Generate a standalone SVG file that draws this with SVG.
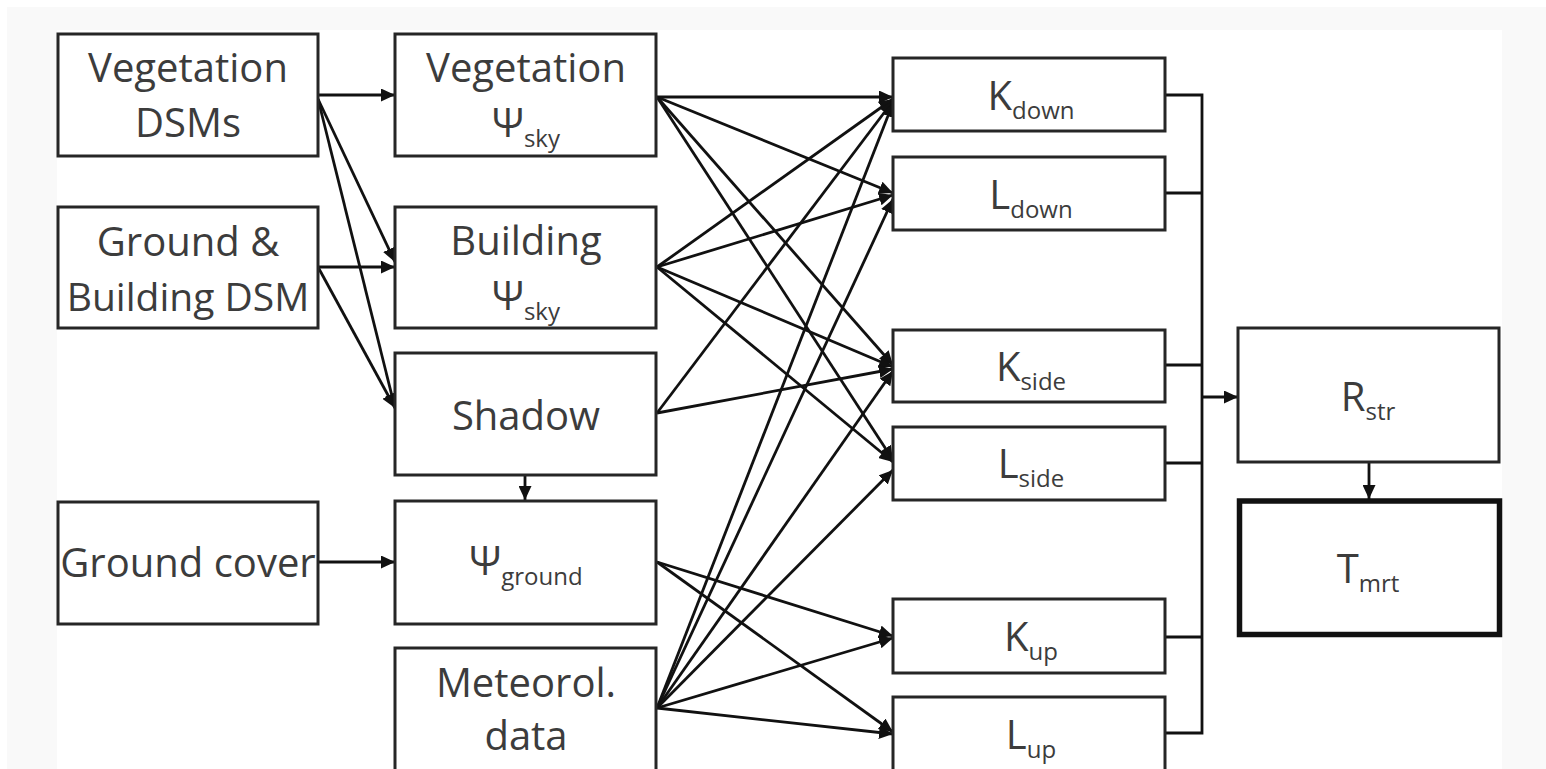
<svg xmlns="http://www.w3.org/2000/svg" width="1546" height="769" viewBox="0 0 1546 769">
<style>
.box{fill:#fff;stroke:#262626;stroke-width:3}
.thick{fill:#fff;stroke:#111;stroke-width:5.5}
.t{font-family:"Open Sans","Liberation Sans",sans-serif;font-size:40px;fill:#3c3c3c;text-anchor:middle}
.s{font-size:24px}
.c{fill:none;stroke:#111;stroke-width:2.8}
.a{marker-end:url(#ah)}
</style>
<defs>
<marker id="ah" markerUnits="userSpaceOnUse" markerWidth="16" markerHeight="13" refX="14" refY="6.5" orient="auto">
<path d="M0,0 L14,6.5 L0,13 Z" fill="#111"/>
</marker>
</defs>
<rect width="1546" height="769" fill="#fff"/>
<rect x="7" y="7" width="1539" height="762" fill="#f9f9f9"/>
<rect x="57" y="30" width="1445" height="739" fill="#fff"/>

<g id="connectors">
<line class="c a" x1="318" y1="95" x2="395" y2="95"/>
<line class="c a" x1="318" y1="99" x2="395" y2="262"/>
<line class="c a" x1="318" y1="99" x2="395" y2="408"/>
<line class="c a" x1="318" y1="267" x2="395" y2="267"/>
<line class="c a" x1="318" y1="267" x2="395" y2="408"/>
<line class="c a" x1="318" y1="562" x2="395" y2="562"/>
<line class="c a" x1="525" y1="475" x2="525" y2="500"/>

<line class="c a" x1="657" y1="97" x2="893" y2="97"/>
<line class="c a" x1="657" y1="97" x2="893" y2="193"/>
<line class="c a" x1="657" y1="97" x2="893" y2="365"/>
<line class="c a" x1="657" y1="97" x2="893" y2="460"/>

<line class="c a" x1="657" y1="267" x2="893" y2="99"/>
<line class="c a" x1="657" y1="267" x2="893" y2="195"/>
<line class="c a" x1="657" y1="267" x2="893" y2="367"/>
<line class="c a" x1="657" y1="267" x2="893" y2="462"/>

<line class="c a" x1="657" y1="413" x2="893" y2="101"/>
<line class="c a" x1="657" y1="413" x2="893" y2="369"/>

<line class="c a" x1="657" y1="562" x2="893" y2="636"/>
<line class="c a" x1="657" y1="562" x2="893" y2="732"/>

<line class="c a" x1="657" y1="708" x2="893" y2="103"/>
<line class="c a" x1="657" y1="708" x2="893" y2="199"/>
<line class="c a" x1="657" y1="708" x2="893" y2="371"/>
<line class="c a" x1="657" y1="708" x2="893" y2="470"/>
<line class="c a" x1="657" y1="708" x2="893" y2="638"/>
<line class="c a" x1="657" y1="708" x2="893" y2="734"/>

<polyline class="c" points="1165,95 1202,95 1202,733 1165,733"/>
<line class="c" x1="1165" y1="193" x2="1202" y2="193"/>
<line class="c" x1="1165" y1="365" x2="1202" y2="365"/>
<line class="c" x1="1165" y1="463" x2="1202" y2="463"/>
<line class="c" x1="1165" y1="637" x2="1202" y2="637"/>
<line class="c a" x1="1202" y1="397" x2="1238" y2="397"/>
<line class="c a" x1="1369" y1="462" x2="1369" y2="499"/>
</g>

<g id="veg-dsms"><rect class="box" x="58" y="34" width="260" height="122"/>
<text class="t" x="188" y="82">Vegetation</text><text class="t" x="188" y="137">DSMs</text></g>
<g id="ground-building-dsm"><rect class="box" x="58" y="207" width="260" height="121"/>
<text class="t" x="188" y="256">Ground &amp;</text><text class="t" x="188" y="311" style="font-size:39px">Building DSM</text></g>
<g id="ground-cover"><rect class="box" x="58" y="502" width="260" height="122"/>
<text class="t" x="188" y="577">Ground cover</text></g>

<g id="veg-psi"><rect class="box" x="395" y="34" width="261" height="122"/>
<text class="t" x="526" y="82">Vegetation</text>
<text class="t" x="526" y="137">Ψ<tspan class="s" dy="10">sky</tspan></text></g>
<g id="bld-psi"><rect class="box" x="395" y="207" width="261" height="121"/>
<text class="t" x="526" y="255">Building</text>
<text class="t" x="526" y="310">Ψ<tspan class="s" dy="10">sky</tspan></text></g>
<g id="shadow"><rect class="box" x="395" y="353" width="261" height="122"/>
<text class="t" x="526" y="430">Shadow</text></g>
<g id="psi-ground"><rect class="box" x="395" y="501" width="261" height="123"/>
<text class="t" x="526" y="575">Ψ<tspan class="s" dy="10">ground</tspan></text></g>
<g id="meteo"><rect class="box" x="395" y="648" width="261" height="130"/>
<text class="t" x="526" y="697">Meteorol.</text><text class="t" x="526" y="750">data</text></g>

<g id="kdown"><rect class="box" x="893" y="58" width="272" height="73"/>
<text class="t" x="1031" y="110">K<tspan class="s" dy="9">down</tspan></text></g>
<g id="ldown"><rect class="box" x="893" y="157" width="272" height="73"/>
<text class="t" x="1031" y="209">L<tspan class="s" dy="9">down</tspan></text></g>
<g id="kside"><rect class="box" x="893" y="330" width="272" height="72"/>
<text class="t" x="1031" y="381">K<tspan class="s" dy="9">side</tspan></text></g>
<g id="lside"><rect class="box" x="893" y="427" width="272" height="73"/>
<text class="t" x="1031" y="478">L<tspan class="s" dy="9">side</tspan></text></g>
<g id="kup"><rect class="box" x="893" y="599" width="272" height="74"/>
<text class="t" x="1031" y="651">K<tspan class="s" dy="9">up</tspan></text></g>
<g id="lup"><rect class="box" x="893" y="697" width="272" height="80"/>
<text class="t" x="1031" y="749">L<tspan class="s" dy="9">up</tspan></text></g>

<g id="rstr"><rect class="box" x="1238" y="328" width="261" height="134"/>
<text class="t" x="1368" y="411">R<tspan class="s" dy="9">str</tspan></text></g>
<g id="tmrt"><rect class="thick" x="1239.5" y="501" width="260" height="133.5"/>
<text class="t" x="1368" y="583">T<tspan class="s" dy="9">mrt</tspan></text></g>
</svg>
